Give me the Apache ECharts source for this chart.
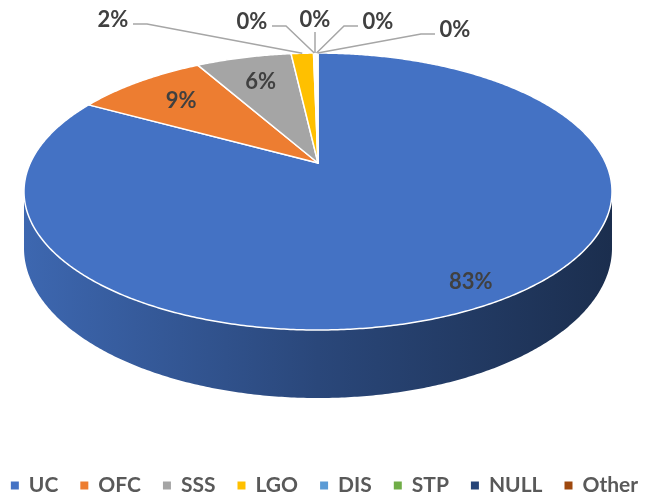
<!DOCTYPE html>
<html>
<head>
<meta charset="utf-8">
<script src="https://cdn.jsdelivr.net/npm/echarts@6/dist/echarts.min.js"></script>
<style>
html,body{margin:0;padding:0;background:#fff;}
#grafica{width:649px;height:494px;}
</style>
</head>
<body>
<div id="grafica"></div>
<script>
// datos
var categorias = ['UC', 'OFC', 'SSS', 'LGO', 'DIS', 'STP', 'NULL', 'Other'];
var valores = [830, 88, 64, 15, 1, 0.5, 1, 0.5];
var colores = ['#4472c4', '#ed7d31', '#a5a5a5', '#ffc000', '#5b9bd5', '#70ad47', '#264478', '#9e480e'];

// geometria del pastel 3D (perspectiva)
var cx = 318, cy = 163, A = 287.7, B = 132.6, k = 0.206, H = 54;
// posiciones de las etiquetas pequenas (arriba)
var posPeq = [[113, 20], [252, 22], [315, 20], [378, 22], [455, 30]];

var total = valores.reduce(function (a, b) { return a + b; }, 0);
var inicio = [], fin = [];
var acum = 0;
for (var i = 0; i < valores.length; i++) {
    inicio.push(acum / total);
    acum += valores[i];
    fin.push(acum / total);
}
// orden de las etiquetas pequenas
var idxPeq = {};
var cont = 0;
for (var i = 0; i < valores.length; i++) {
    if (valores[i] / total < 0.05) { idxPeq[i] = cont++; }
}

function proyecta(f, r, caida) {
    var t = 2 * Math.PI * f;
    var u = r * Math.sin(t), v = -r * Math.cos(t);
    var w = 1 - k * v;
    return [cx + A * u / w, cy + (B * v + (caida || 0)) / w];
}

function oscurece(hex, m) {
    var n = parseInt(hex.slice(1), 16);
    var r = Math.round(((n >> 16) & 255) * m), g = Math.round(((n >> 8) & 255) * m), b = Math.round((n & 255) * m);
    return 'rgb(' + r + ',' + g + ',' + b + ')';
}

var fa = Math.acos(-k) / (2 * Math.PI), fb = 1 - fa;

function renderItem(params, api) {
    var i = params.dataIndex;
    var f0 = inicio[i], f1 = fin[i];
    var hijos = [];
    // pared lateral visible
    var a = Math.max(f0, fa), b = Math.min(f1, fb);
    if (b > a) {
        var arriba = [], abajo = [];
        var n = Math.max(2, Math.ceil((b - a) * 720));
        for (var j = 0; j <= n; j++) {
            var f = a + (b - a) * j / n;
            arriba.push(proyecta(f, 1));
            abajo.push(proyecta(f, 1, H));
        }
        var xi = proyecta(fb, 1)[0], xd = proyecta(fa, 1)[0];
        hijos.push({
            type: 'polygon', z2: 1,
            shape: { points: arriba.concat(abajo.reverse()) },
            style: {
                fill: {
                    type: 'linear', x: xi, y: 0, x2: xd, y2: 0, global: true,
                    colorStops: [
                        { offset: 0, color: oscurece(colores[i], 0.9) },
                        { offset: 0.5, color: oscurece(colores[i], 0.62) },
                        { offset: 1, color: oscurece(colores[i], 0.4) }
                    ]
                }
            }
        });
    }
    // cara superior
    var pts = [proyecta(0, 0)];
    var m = Math.max(2, Math.ceil((f1 - f0) * 720));
    for (var j = 0; j <= m; j++) { pts.push(proyecta(f0 + (f1 - f0) * j / m, 1)); }
    hijos.push({
        type: 'polygon', z2: 10,
        shape: { points: pts },
        style: { fill: colores[i], stroke: '#fff', lineWidth: 1.5, lineJoin: 'round' }
    });
    // etiqueta
    var pct = Math.round(valores[i] / total * 100) + '%';
    var medio = (f0 + f1) / 2;
    var estilo = { fontFamily: 'Lato', fontSize: 22, fontWeight: 'bold', fill: '#404040', align: 'center', verticalAlign: 'middle' };
    if (idxPeq[i] === undefined) {
        var p = proyecta(medio, (f1 - f0) > 0.5 ? 0.88 : 0.74);
        hijos.push({ type: 'text', z2: 20, x: p[0], y: p[1], style: Object.assign({ text: pct }, estilo) });
    } else {
        var q = posPeq[idxPeq[i]];
        var ancla = proyecta(medio, 1);
        var linea;
        if (Math.abs(q[0] - ancla[0]) < 12) {
            linea = [[q[0], q[1] + 12], [q[0], ancla[1]]];
        } else if (q[0] < ancla[0]) {
            linea = [[q[0] + 20, q[1] + 4], [q[0] + 34, q[1] + 4], ancla];
        } else {
            linea = [[q[0] - 20, q[1] + 4], [q[0] - 34, q[1] + 4], ancla];
        }
        hijos.push({ type: 'polyline', z2: 15, shape: { points: linea }, style: { stroke: '#a6a6a6', lineWidth: 1.5, fill: null } });
        hijos.push({ type: 'text', z2: 20, x: q[0], y: q[1], style: Object.assign({ text: pct }, estilo) });
    }
    return { type: 'group', children: hijos };
}

var grafica = document.getElementById('grafica');
var myChart = echarts.init(grafica);
var datosPie = categorias.map(function (c, i) { return { name: c, value: valores[i] }; });
var option = {
    animation: false,
    color: colores,
    legend: {
        data: categorias,
        left: 'center',
        top: 470,
        icon: 'rect',
        itemWidth: 8,
        itemHeight: 8,
        itemGap: 22,
        selectedMode: false,
        textStyle: { fontFamily: 'Lato', fontSize: 21, fontWeight: 'bold', color: '#595959', padding: [0, 0, 0, 5] }
    },
    series: [
        {
            type: 'custom',
            coordinateSystem: 'none',
            renderItem: renderItem,
            silent: true,
            data: valores.map(function (v) { return [v]; })
        },
        {
            type: 'pie',
            radius: [0, 0],
            center: [-50, -50],
            silent: true,
            label: { show: false },
            labelLine: { show: false },
            data: datosPie
        }
    ]
};
myChart.setOption(option);
</script>
</body>
</html>
